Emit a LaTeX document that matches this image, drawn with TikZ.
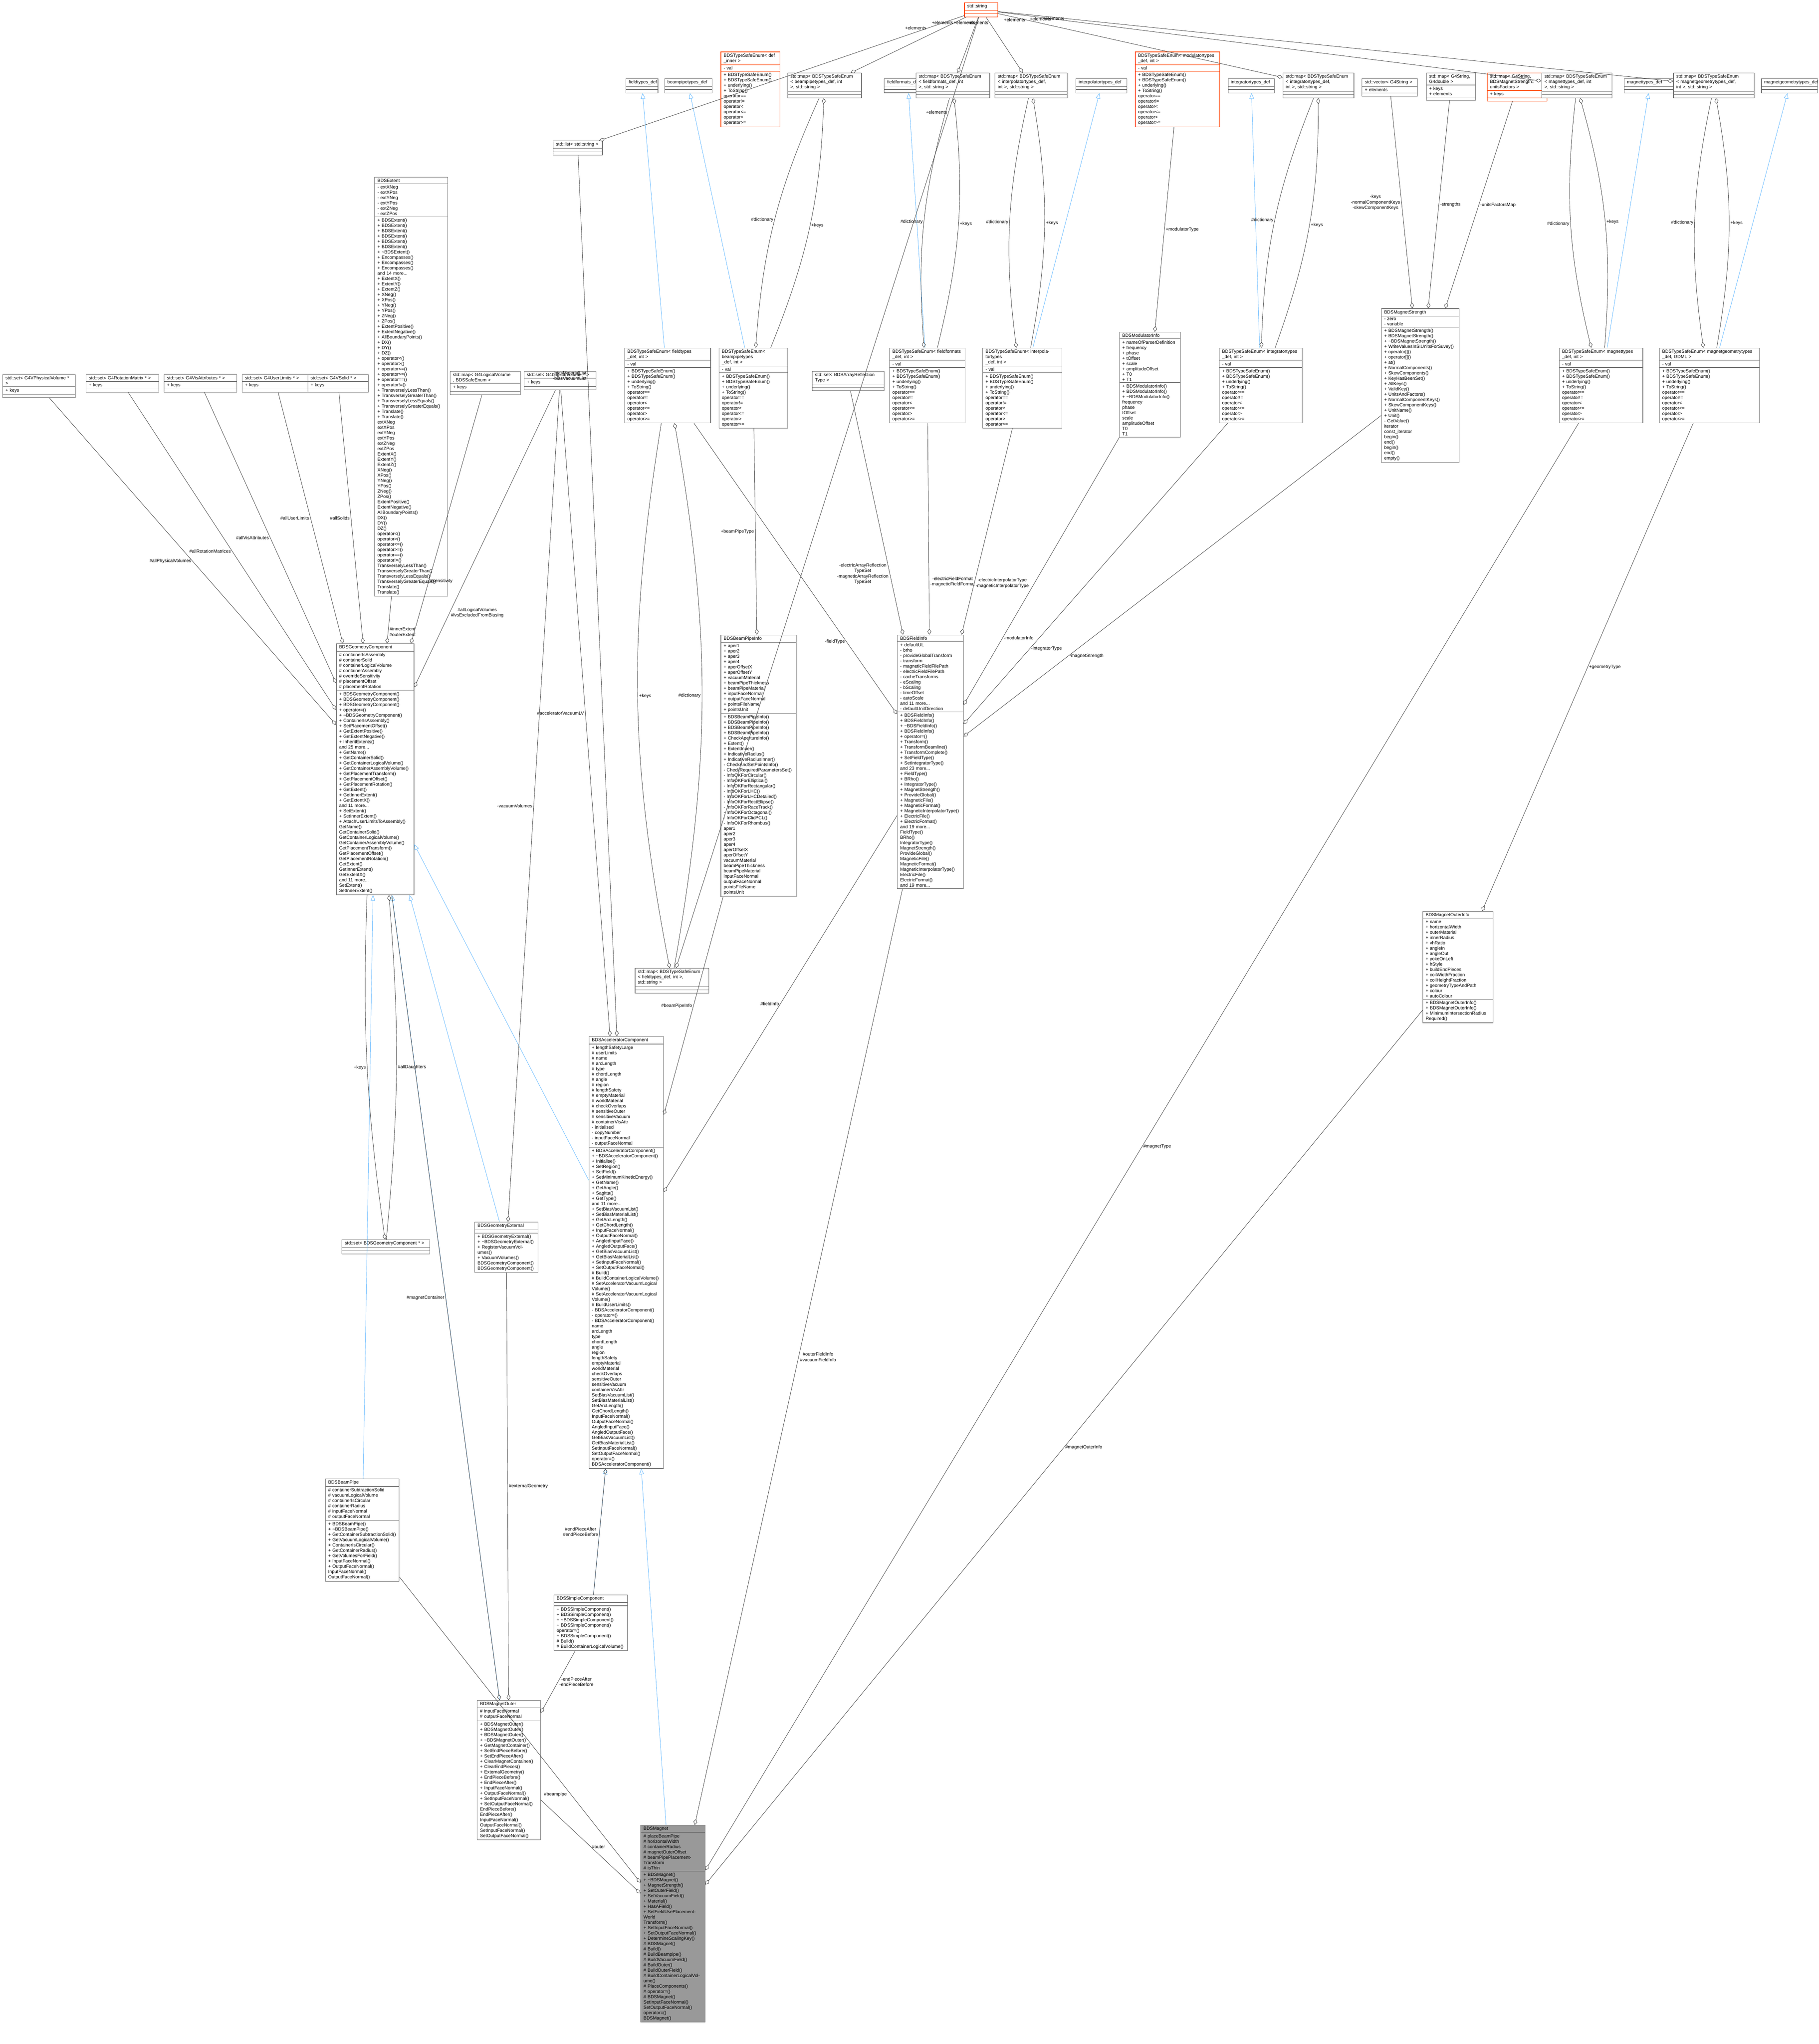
\documentclass[tikz,border=0pt]{standalone}
\usepackage{fontspec}
\setmainfont{Liberation Sans}
\usepackage{tikz}
\usetikzlibrary{positioning}
\usetikzlibrary{arrows.meta,shapes.multipart}
\definecolor{umlGrey}{rgb}{0.6,0.6,0.6}
\definecolor{umlBlue}{rgb}{0.39,0.72,1.0}
\definecolor{umlRed}{rgb}{1.0,0.25,0.0}

\tikzset{
  cls/.style={rectangle split, rectangle split parts=3, rectangle split draw splits,
    draw=black!55, fill=white, anchor=north west, inner xsep=0.08cm, inner ysep=0.04cm,
    align=left, font=\fontsize{3.7}{4.3}\selectfont},
  redcls/.style={cls, draw=umlRed},
  agg/.style={draw=black!75, line width=0.3pt, {Diamond[open,length=0.17cm,width=0.11cm]}-},
  inh/.style={draw=umlBlue, line width=0.3pt, {Triangle[open,length=0.16cm,width=0.13cm]}-},
  lbl/.style={font=\fontsize{3.7}{4.4}\selectfont, align=center, inner sep=1pt}
}
% one class box: name, position (cm), width (cm), title, attributes, methods
\newcommand\umlclass[7][cls]{%
  \node[#1, text width=#4cm] (#2) at (#3) {#5\nodepart{second}#6\nodepart{third}#7};}
\newcommand\enumops{+ BDSTypeSafeEnum()\\+ BDSTypeSafeEnum()\\+ underlying()\\+ ToString()\\* operator==\\* operator!=\\* operator<\\* operator<=\\* operator>\\* operator>=}

\begin{document}
\begin{tikzpicture}
\useasboundingbox (0,0) rectangle (51.74,-58.13);

% Top row:
\umlclass[redcls]{str}{27.43,-0.07}{0.79}{std::string}{\mbox{}}{\mbox{}}
\umlclass[redcls]{innerdef}{20.50,-1.47}{1.52}{BDSTypeSafeEnum< def\\\_inner >}{- val}{+ BDSTypeSafeEnum()\\+ BDSTypeSafeEnum()\\+ underlying()\\+ ToString()\\* operator==\\* operator!=\\* operator<\\* operator<=\\* operator>\\* operator>=}
\umlclass{ftdef}{17.80,-2.23}{0.75}{fieldtypes\_def}{\mbox{}}{\mbox{}}
\umlclass{bptdef}{18.90,-2.23}{1.19}{beampipetypes\_def}{\mbox{}}{\mbox{}}
\umlclass{mapbpt}{22.40,-2.07}{1.94}{std::map< BDSTypeSafeEnum\\< beampipetypes\_def, int\\>, std::string >}{\mbox{}}{\mbox{}}
\umlclass{ffdef}{25.15,-2.23}{1.19}{fieldformats\_def}{\mbox{}}{\mbox{}}
\umlclass{mapff}{26.05,-2.07}{1.94}{std::map< BDSTypeSafeEnum\\< fieldformats\_def, int\\>, std::string >}{\mbox{}}{\mbox{}}
\umlclass{mapit}{28.30,-2.07}{1.89}{std::map< BDSTypeSafeEnum\\< interpolatortypes\_def,\\int >, std::string >}{\mbox{}}{\mbox{}}
\umlclass{itdef}{30.60,-2.23}{1.29}{interpolatortypes\_def}{\mbox{}}{\mbox{}}
\umlclass[redcls]{modenum}{32.29,-1.47}{2.24}{BDSTypeSafeEnum< modulatortypes\\\_def, int >}{- val}{\enumops}
\umlclass{intdef}{34.93,-2.23}{1.16}{integratortypes\_def}{\mbox{}}{\mbox{}}
\umlclass{mapint}{36.49,-2.07}{1.86}{std::map< BDSTypeSafeEnum\\< integratortypes\_def,\\int >, std::string >}{\mbox{}}{\mbox{}}
\umlclass{vecstr}{38.74,-2.23}{1.42}{std::vector< G4String >}{+ elements}{\mbox{}}
\umlclass{mapsd}{40.57,-2.07}{1.24}{std::map< G4String,\\G4double >}{+ keys\\+ elements}{\mbox{}}
\umlclass[redcls]{mapuf}{42.30,-2.07}{1.54}{std::map< G4String,\\BDSMagnetStrength::\\unitsFactors >}{+ keys}{\mbox{}}
\umlclass{mapmt}{43.85,-2.07}{1.84}{std::map< BDSTypeSafeEnum\\< magnettypes\_def, int\\>, std::string >}{\mbox{}}{\mbox{}}
\umlclass{mtdef}{46.20,-2.23}{1.29}{magnettypes\_def}{\mbox{}}{\mbox{}}
\umlclass{mapmg}{47.60,-2.07}{2.14}{std::map< BDSTypeSafeEnum\\< magnetgeometrytypes\_def,\\int >, std::string >}{\mbox{}}{\mbox{}}
\umlclass{mgdef}{50.10,-2.23}{1.44}{magnetgeometrytypes\_def}{\mbox{}}{\mbox{}}
\umlclass{lst}{15.73,-4.00}{1.24}{std::list< std::string >}{\mbox{}}{\mbox{}}

% Enum row:
\umlclass{teft}{17.76,-9.89}{2.29}{BDSTypeSafeEnum< fieldtypes\\\_def, int >}{- val}{\enumops}
\umlclass{tebpt}{20.45,-9.89}{1.79}{BDSTypeSafeEnum< beampipetypes\\\_def, int >}{- val}{\enumops}
\umlclass{maparr}{23.10,-10.55}{1.89}{std::set< BDSArrayReflection\\Type >}{\mbox{}}{\mbox{}}
\umlclass{teff}{25.30,-9.89}{1.99}{BDSTypeSafeEnum< fieldformats\\\_def, int >}{- val}{\enumops}
\umlclass{teit}{27.95,-9.89}{2.09}{BDSTypeSafeEnum< interpolatortypes\\\_def, int >}{- val}{\enumops}
\umlclass{modinfo}{31.84,-9.44}{1.57}{BDSModulatorInfo}{+ nameOfParserDefinition\\+ frequency\\+ phase\\+ tOffset\\+ scale\\+ amplitudeOffset\\+ T0\\+ T1}{+ BDSModulatorInfo()\\+ BDSModulatorInfo()\\+ \textasciitilde BDSModulatorInfo()\\* frequency\\* phase\\* tOffset\\* scale\\* amplitudeOffset\\* T0\\* T1}
\umlclass{teint}{34.68,-9.89}{2.20}{BDSTypeSafeEnum< integratortypes\\\_def, int >}{- val}{\enumops}
\umlclass{ms}{39.29,-8.77}{2.05}{BDSMagnetStrength}{- zero\\- variable}{+ BDSMagnetStrength()\\+ BDSMagnetStrength()\\+ \textasciitilde BDSMagnetStrength()\\+ WriteValuesInSIUnitsForSuvey()\\+ operator[]()\\+ operator[]()\\+ at()\\+ NormalComponents()\\+ SkewComponents()\\+ KeyHasBeenSet()\\+ AllKeys()\\+ ValidKey()\\+ UnitsAndFactors()\\+ NormalComponentKeys()\\+ SkewComponentKeys()\\+ UnitName()\\+ Unit()\\- GetValue()\\* iterator\\* const\_iterator\\* begin()\\* end()\\* begin()\\* end()\\* empty()}
\umlclass{temt}{44.35,-9.89}{2.22}{BDSTypeSafeEnum< magnettypes\\\_def, int >}{- val}{\enumops}
\umlclass{temg}{47.20,-9.89}{2.69}{BDSTypeSafeEnum< magnetgeometrytypes\\\_def, GDML >}{- val}{\enumops}

% Geometry sets:
\umlclass{setpv}{0.07,-10.65}{1.91}{std::set< G4VPhysicalVolume * >}{+ keys}{\mbox{}}
\umlclass{setrot}{2.44,-10.65}{1.91}{std::set< G4RotationMatrix * >}{+ keys}{\mbox{}}
\umlclass{setvis}{4.66,-10.65}{1.91}{std::set< G4VisAttributes * >}{+ keys}{\mbox{}}
\umlclass{setul}{6.88,-10.65}{1.76}{std::set< G4UserLimits * >}{+ keys}{\mbox{}}
\umlclass{setsol}{8.75,-10.65}{1.56}{std::set< G4VSolid * >}{+ keys}{\mbox{}}
\umlclass{maplv}{12.80,-10.55}{1.84}{std::map< G4LogicalVolume\\*, BDSSafeEnum >}{+ keys}{\mbox{}}
\umlclass{setlv}{14.90,-10.55}{1.89}{std::set< G4LogicalVolume * >}{+ keys}{\mbox{}}

\umlclass{ext}{10.65,-5.03}{1.92}{BDSExtent}{- extXNeg\\- extXPos\\- extYNeg\\- extYPos\\- extZNeg\\- extZPos}{+ BDSExtent()\\+ BDSExtent()\\+ BDSExtent()\\+ BDSExtent()\\+ BDSExtent()\\+ BDSExtent()\\+ \textasciitilde BDSExtent()\\+ Encompasses()\\+ Encompasses()\\+ Encompasses()\\and 14 more...\\+ ExtentX()\\+ ExtentY()\\+ ExtentZ()\\+ XNeg()\\+ XPos()\\+ YNeg()\\+ YPos()\\+ ZNeg()\\+ ZPos()\\+ ExtentPositive()\\+ ExtentNegative()\\+ AllBoundaryPoints()\\+ DX()\\+ DY()\\+ DZ()\\+ operator<()\\+ operator>()\\+ operator<=()\\+ operator>=()\\+ operator==()\\+ operator!=()\\+ TransverselyLessThan()\\+ TransverselyGreaterThan()\\+ TransverselyLessEquals()\\+ TransverselyGreaterEquals()\\+ Translate()\\+ Translate()\\* extXNeg\\* extXPos\\* extYNeg\\* extYPos\\* extZNeg\\* extZPos\\* ExtentX()\\* ExtentY()\\* ExtentZ()\\* XNeg()\\* XPos()\\* YNeg()\\* YPos()\\* ZNeg()\\* ZPos()\\* ExtentPositive()\\* ExtentNegative()\\* AllBoundaryPoints()\\* DX()\\* DY()\\* DZ()\\* operator<()\\* operator>()\\* operator<=()\\* operator>=()\\* operator==()\\* operator!=()\\* TransverselyLessThan()\\* TransverselyGreaterThan()\\* TransverselyLessEquals()\\* TransverselyGreaterEquals()\\* Translate()\\* Translate()}

\umlclass{geom}{9.56,-18.30}{2.05}{BDSGeometryComponent}{\# containerIsAssembly\\\# containerSolid\\\# containerLogicalVolume\\\# containerAssembly\\\# overrideSensitivity\\\# placementOffset\\\# placementRotation}{+ BDSGeometryComponent()\\+ BDSGeometryComponent()\\+ BDSGeometryComponent()\\+ operator=()\\+ \textasciitilde BDSGeometryComponent()\\+ ContainerIsAssembly()\\+ SetPlacementOffset()\\+ GetExtentPositive()\\+ GetExtentNegative()\\+ InheritExtents()\\and 25 more...\\+ GetName()\\+ GetContainerSolid()\\+ GetContainerLogicalVolume()\\+ GetContainerAssemblyVolume()\\+ GetPlacementTransform()\\+ GetPlacementOffset()\\+ GetPlacementRotation()\\+ GetExtent()\\+ GetInnerExtent()\\+ GetExtentX()\\and 11 more...\\+ SetExtent()\\+ SetInnerExtent()\\+ AttachUserLimitsToAssembly()\\* GetName()\\* GetContainerSolid()\\* GetContainerLogicalVolume()\\* GetContainerAssemblyVolume()\\* GetPlacementTransform()\\* GetPlacementOffset()\\* GetPlacementRotation()\\* GetExtent()\\* GetInnerExtent()\\* GetExtentX()\\and 11 more...\\* SetExtent()\\* SetInnerExtent()}

\umlclass{gcset}{9.72,-35.25}{2.34}{std::set< BDSGeometryComponent * >}{\mbox{}}{\mbox{}}
\umlclass{gext}{13.50,-34.75}{1.64}{BDSGeometryExternal}{\mbox{}}{+ BDSGeometryExternal()\\+ \textasciitilde BDSGeometryExternal()\\+ RegisterVacuumVolumes()\\+ VacuumVolumes()\\* BDSGeometryComponent()\\* BDSGeometryComponent()}

% Beam pipe and field information:
\umlclass{bpi}{20.50,-18.05}{1.99}{BDSBeamPipeInfo}{+ aper1\\+ aper2\\+ aper3\\+ aper4\\+ aperOffsetX\\+ aperOffsetY\\+ vacuumMaterial\\+ beamPipeThickness\\+ beamPipeMaterial\\+ inputFaceNormal\\+ outputFaceNormal\\+ pointsFileName\\+ pointsUnit}{+ BDSBeamPipeInfo()\\+ BDSBeamPipeInfo()\\+ BDSBeamPipeInfo()\\+ BDSBeamPipeInfo()\\+ CheckApertureInfo()\\+ Extent()\\+ ExtentInner()\\+ IndicativeRadius()\\+ IndicativeRadiusInner()\\- CheckAndSetPointsInfo()\\- CheckRequiredParametersSet()\\- InfoOKForCircular()\\- InfoOKForElliptical()\\- InfoOKForRectangular()\\- InfoOKForLHC()\\- InfoOKForLHCDetailed()\\- InfoOKForRectEllipse()\\- InfoOKForRaceTrack()\\- InfoOKForOctagonal()\\- InfoOKForClicPCL()\\- InfoOKForRhombus()\\* aper1\\* aper2\\* aper3\\* aper4\\* aperOffsetX\\* aperOffsetY\\* vacuumMaterial\\* beamPipeThickness\\* beamPipeMaterial\\* inputFaceNormal\\* outputFaceNormal\\* pointsFileName\\* pointsUnit}
\umlclass{fi}{25.52,-18.05}{1.72}{BDSFieldInfo}{+ defaultUL\\- brho\\- provideGlobalTransform\\- transform\\- magneticFieldFilePath\\- electricFieldFilePath\\- cacheTransforms\\- eScaling\\- bScaling\\- timeOffset\\- autoScale\\and 11 more...\\- defaultUnitDirection}{+ BDSFieldInfo()\\+ BDSFieldInfo()\\+ \textasciitilde BDSFieldInfo()\\+ BDSFieldInfo()\\+ operator=()\\+ Transform()\\+ TransformBeamline()\\+ TransformComplete()\\+ SetFieldType()\\+ SetIntegratorType()\\and 23 more...\\+ FieldType()\\+ BRho()\\+ IntegratorType()\\+ MagnetStrength()\\+ ProvideGlobal()\\+ MagneticFile()\\+ MagneticFormat()\\+ MagneticInterpolatorType()\\+ ElectricFile()\\+ ElectricFormat()\\and 19 more...\\* FieldType()\\* BRho()\\* IntegratorType()\\* MagnetStrength()\\* ProvideGlobal()\\* MagneticFile()\\* MagneticFormat()\\* MagneticInterpolatorType()\\* ElectricFile()\\* ElectricFormat()\\and 19 more...}
\umlclass{mapft}{18.06,-27.53}{1.94}{std::map< BDSTypeSafeEnum\\< fieldtypes\_def, int >,\\std::string >}{\mbox{}}{\mbox{}}
\umlclass{moi}{40.47,-25.91}{1.84}{BDSMagnetOuterInfo}{+ name\\+ horizontalWidth\\+ outerMaterial\\+ innerRadius\\+ vhRatio\\+ angleIn\\+ angleOut\\+ yokeOnLeft\\+ hStyle\\+ buildEndPieces\\+ coilWidthFraction\\+ coilHeightFraction\\+ geometryTypeAndPath\\+ colour\\+ autoColour}{+ BDSMagnetOuterInfo()\\+ BDSMagnetOuterInfo()\\+ MinimumIntersectionRadius\\Required()}

% Components:
\umlclass{acc}{16.75,-29.47}{1.96}{BDSAcceleratorComponent}{+ lengthSafetyLarge\\\# userLimits\\\# name\\\# arcLength\\\# type\\\# chordLength\\\# angle\\\# region\\\# lengthSafety\\\# emptyMaterial\\\# worldMaterial\\\# checkOverlaps\\\# sensitiveOuter\\\# sensitiveVacuum\\\# containerVisAttr\\- initialised\\- copyNumber\\- inputFaceNormal\\- outputFaceNormal}{+ BDSAcceleratorComponent()\\+ \textasciitilde BDSAcceleratorComponent()\\+ Initialise()\\+ SetRegion()\\+ SetField()\\+ SetMinimumKineticEnergy()\\+ GetName()\\+ GetAngle()\\+ Sagitta()\\+ GetType()\\and 11 more...\\+ SetBiasVacuumList()\\+ SetBiasMaterialList()\\+ GetArcLength()\\+ GetChordLength()\\+ InputFaceNormal()\\+ OutputFaceNormal()\\+ AngledInputFace()\\+ AngledOutputFace()\\+ GetBiasVacuumList()\\+ GetBiasMaterialList()\\+ SetInputFaceNormal()\\+ SetOutputFaceNormal()\\\# Build()\\\# BuildContainerLogicalVolume()\\\# SetAcceleratorVacuumLogical\\Volume()\\\# SetAcceleratorVacuumLogical\\Volume()\\\# BuildUserLimits()\\- BDSAcceleratorComponent()\\- operator=()\\- BDSAcceleratorComponent()\\* name\\* arcLength\\* type\\* chordLength\\* angle\\* region\\* lengthSafety\\* emptyMaterial\\* worldMaterial\\* checkOverlaps\\* sensitiveOuter\\* sensitiveVacuum\\* containerVisAttr\\* SetBiasVacuumList()\\* SetBiasMaterialList()\\* GetArcLength()\\* GetChordLength()\\* InputFaceNormal()\\* OutputFaceNormal()\\* AngledInputFace()\\* AngledOutputFace()\\* GetBiasVacuumList()\\* GetBiasMaterialList()\\* SetInputFaceNormal()\\* SetOutputFaceNormal()\\* operator=()\\* BDSAcceleratorComponent()}
\umlclass{bp}{9.25,-42.05}{1.94}{BDSBeamPipe}{\# containerSubtractionSolid\\\# vacuumLogicalVolume\\\# containerIsCircular\\\# containerRadius\\\# inputFaceNormal\\\# outputFaceNormal}{+ BDSBeamPipe()\\+ \textasciitilde BDSBeamPipe()\\+ GetContainerSubtractionSolid()\\+ GetVacuumLogicalVolume()\\+ ContainerIsCircular()\\+ GetContainerRadius()\\+ GetVolumesForField()\\+ InputFaceNormal()\\+ OutputFaceNormal()\\* InputFaceNormal()\\* OutputFaceNormal()}
\umlclass{simp}{15.75,-45.35}{1.94}{BDSSimpleComponent}{\mbox{}}{+ BDSSimpleComponent()\\+ BDSSimpleComponent()\\+ \textasciitilde BDSSimpleComponent()\\+ BDSSimpleComponent()\\operator=()\\+ BDSSimpleComponent()\\\# Build()\\\# BuildContainerLogicalVolume()}
\umlclass{mo}{13.57,-48.35}{1.64}{BDSMagnetOuter}{\# inputFaceNormal\\\# outputFaceNormal}{+ BDSMagnetOuter()\\+ BDSMagnetOuter()\\+ BDSMagnetOuter()\\+ \textasciitilde BDSMagnetOuter()\\+ GetMagnetContainer()\\+ SetEndPieceBefore()\\+ SetEndPieceAfter()\\+ ClearMagnetContainer()\\+ ClearEndPieces()\\+ ExternalGeometry()\\+ EndPieceBefore()\\+ EndPieceAfter()\\+ InputFaceNormal()\\+ OutputFaceNormal()\\+ SetInputFaceNormal()\\+ SetOutputFaceNormal()\\* EndPieceBefore()\\* EndPieceAfter()\\* InputFaceNormal()\\* OutputFaceNormal()\\* SetInputFaceNormal()\\* SetOutputFaceNormal()}
\umlclass[cls,fill=umlGrey]{mag}{18.22,-51.90}{1.67}{BDSMagnet}{\# placeBeamPipe\\\# horizontalWidth\\\# containerRadius\\\# magnetOuterOffset\\\# beamPipePlacementTransform\\\# isThin}{+ BDSMagnet()\\+ \textasciitilde BDSMagnet()\\+ MagnetStrength()\\+ SetOuterField()\\+ SetVacuumField()\\+ Material()\\+ HasAField()\\+ SetFieldUsePlacementWorld\\Transform()\\+ SetInputFaceNormal()\\+ SetOutputFaceNormal()\\+ DetermineScalingKey()\\\# BDSMagnet()\\\# Build()\\\# BuildBeampipe()\\\# BuildVacuumField()\\\# BuildOuter()\\\# BuildOuterField()\\\# BuildContainerLogicalVolume()\\\# PlaceComponents()\\\# operator=()\\\# BDSMagnet()\\* SetInputFaceNormal()\\* SetOutputFaceNormal()\\* operator=()\\* BDSMagnet()}

% Inheritance:
\foreach \base/\derived in {ftdef/teft, bptdef/tebpt, ffdef/teff, itdef/teit, intdef/teint, mtdef/temt, mgdef/temg, geom/acc, geom/bp, geom/gext, geom/mo, acc/simp, acc/mag}
  \draw[inh] (\base) -- (\derived);

% Strings held by containers:
\foreach \holder in {lst, mapbpt, mapff, mapit, mapint, mapmt, mapmg, mapft}
  \draw[agg] (\holder) -- node[lbl, pos=0.9, left] {+elements} (str);

% Enum dictionaries and keys:
\foreach \enum/\dict in {tebpt/mapbpt, teff/mapff, teit/mapit, teint/mapint, temt/mapmt, temg/mapmg, teft/mapft} {
  \draw[agg] (\enum) to[bend left=10] node[lbl, midway, left] {\#dictionary} (\dict);
  \draw[agg] (\dict) to[bend left=10] node[lbl, midway, right] {+keys} (\enum);
}

% Geometry component members:
\draw[agg] (geom) -- node[lbl, midway, left] {\#allPhysicalVolumes} (setpv);
\draw[agg] (geom) -- node[lbl, midway, left] {\#allRotationMatrices} (setrot);
\draw[agg] (geom) -- node[lbl, midway, left] {\#allVisAttributes} (setvis);
\draw[agg] (geom) -- node[lbl, midway, left] {\#allUserLimits} (setul);
\draw[agg] (geom) -- node[lbl, midway, left] {\#allSolids} (setsol);
\draw[agg] (geom) -- node[lbl, near start, right] {\#innerExtent\\\#outerExtent} (ext);
\draw[agg] (geom) -- node[lbl, near start, right] {\#sensitivity} (maplv);
\draw[agg] (geom) -- node[lbl, near start, right] {\#allLogicalVolumes\\\#lvsExcludedFromBiasing} (setlv);
\draw[agg] (gcset) to[bend left=5] node[lbl, midway, left] {+keys} (geom);
\draw[agg] (geom) to[bend left=5] node[lbl, midway, right] {\#allDaughters} (gcset);
\draw[agg] (gext) -- node[lbl, midway, left] {-vacuumVolumes} (setlv);

% Accelerator component members:
\draw[agg] (acc) -- node[lbl, midway, left] {\#acceleratorVacuumLV} (setlv);
\draw[agg] (acc) -- node[lbl, pos=0.75, left] {-biasMaterialList\\-biasVacuumList} (lst);
\draw[agg] (acc) -- node[lbl, midway, left] {\#beamPipeInfo} (bpi);
\draw[agg] (acc) -- node[lbl, midway, left] {\#fieldInfo} (fi);
\draw[agg] (acc) -- node[lbl, midway, left] {\#endPieceAfter\\\#endPieceBefore} (simp);
\draw[agg] (bpi) -- node[lbl, midway, left] {+beamPipeType} (tebpt);

% Field information members:
\draw[agg] (fi) -- node[lbl, near start, left] {-fieldType} (teft);
\draw[agg] (fi) -- node[lbl, near start, left] {-electricArrayReflection\\TypeSet\\-magneticArrayReflection\\TypeSet} (maparr);
\draw[agg] (fi) -- node[lbl, near start, right] {-electricFieldFormat\\-magneticFieldFormat} (teff);
\draw[agg] (fi) -- node[lbl, near start, right] {-electricInterpolatorType\\-magneticInterpolatorType} (teit);
\draw[agg] (fi) -- node[lbl, near start, right] {-modulatorInfo} (modinfo);
\draw[agg] (fi) -- node[lbl, near start, right] {-integratorType} (teint);
\draw[agg] (fi) -- node[lbl, near start, right] {-magnetStrength} (ms);
\draw[agg] (modinfo) -- node[lbl, midway, right] {+modulatorType} (modenum);

% Magnet strength members:
\draw[agg] (ms) -- node[lbl, midway, left] {-keys\\-normalComponentKeys\\-skewComponentKeys} (vecstr);
\draw[agg] (ms) -- node[lbl, midway, right] {-strengths} (mapsd);
\draw[agg] (ms) -- node[lbl, midway, right] {-unitsFactorsMap} (mapuf);
\draw[agg] (moi) -- node[lbl, midway, right] {+geometryType} (temg);

% Magnet members:
\draw[agg] (mo) -- node[lbl, midway, left] {\#magnetContainer} (geom);
\draw[agg] (mo) -- node[lbl, midway, right] {\#externalGeometry} (gext);
\draw[agg] (mo) -- node[lbl, midway, right] {-endPieceAfter\\-endPieceBefore} (simp);
\draw[agg] (mag) -- node[lbl, midway, right] {\#outer} (mo);
\draw[agg] (mag) -- node[lbl, pos=0.3, below left] {\#beampipe} (bp);
\draw[agg] (mag) -- node[lbl, midway, right] {\#outerFieldInfo\\\#vacuumFieldInfo} (fi);
\draw[agg] (mag) -- node[lbl, midway, right] {\#magnetType} (temt);
\draw[agg] (mag) -- node[lbl, midway, right] {\#magnetOuterInfo} (moi);
\end{tikzpicture}
\end{document}
